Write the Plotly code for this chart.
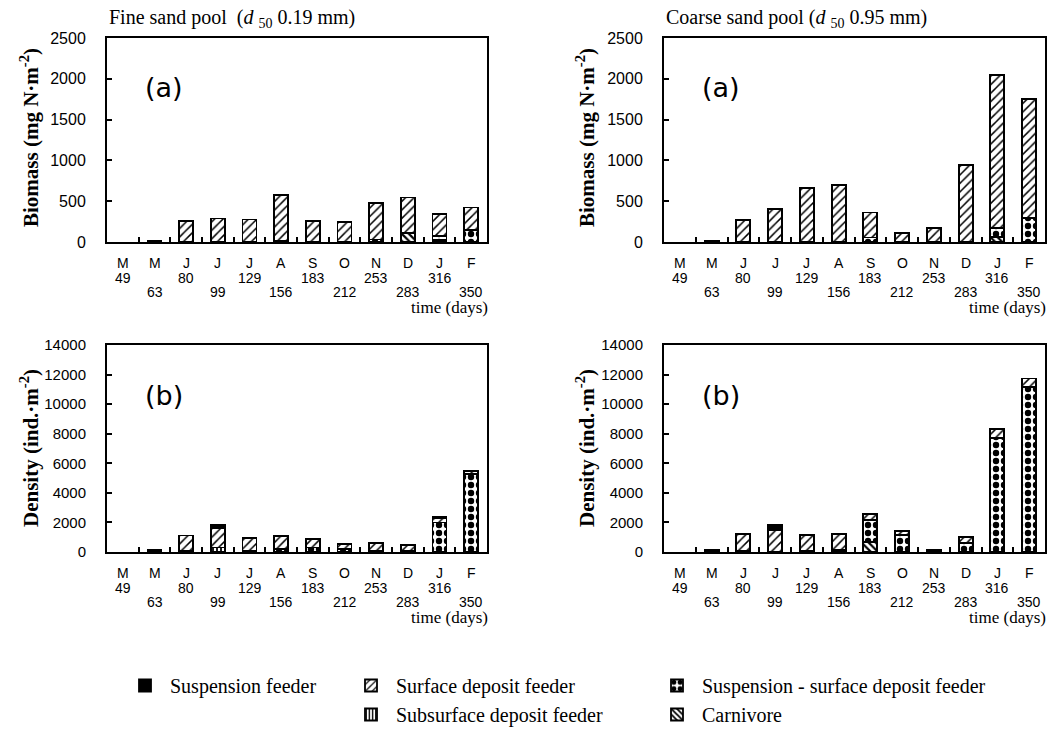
import plotly.graph_objects as go

# Sampling dates: month initial and day number since start
months = ["M", "M", "J", "J", "J", "A", "S", "O", "N", "D", "J", "F"]
days = [49, 63, 80, 99, 129, 156, 183, 212, 253, 283, 316, 350]

# Biomass (mg N m-2), fine sand pool
fine_bio_susp = [0, 10, 0, 0, 0, 0, 0, 0, 0, 0, 0, 0]
fine_bio_surf = [0, 0, 261, 289, 277, 560, 253, 245, 447, 436, 267, 279]
fine_bio_subs = [0, 0, 0, 0, 0, 0, 0, 0, 0, 0, 20, 0]
fine_bio_mix = [0, 0, 0, 0, 0, 15, 0, 0, 30, 0, 55, 145]
fine_bio_carn = [0, 0, 0, 0, 0, 0, 0, 0, 0, 110, 0, 0]

# Biomass (mg N m-2), coarse sand pool
coarse_bio_susp = [0, 10, 0, 0, 0, 0, 0, 0, 0, 0, 0, 0]
coarse_bio_surf = [0, 0, 272, 402, 663, 703, 307, 110, 167, 943, 1874, 1466]
coarse_bio_subs = [0, 0, 0, 0, 0, 0, 0, 0, 0, 0, 0, 0]
coarse_bio_mix = [0, 0, 0, 0, 0, 0, 55, 0, 0, 0, 105, 290]
coarse_bio_carn = [0, 0, 0, 0, 0, 0, 0, 0, 0, 0, 65, 0]

# Density (ind. m-2), fine sand pool
fine_den_susp = [0, 120, 0, 250, 0, 0, 0, 0, 0, 0, 100, 0]
fine_den_surf = [0, 0, 1050, 1300, 850, 900, 600, 340, 560, 450, 270, 220]
fine_den_subs = [0, 0, 0, 300, 0, 0, 0, 0, 0, 0, 0, 0]
fine_den_mix = [0, 0, 60, 0, 100, 200, 300, 200, 50, 50, 2000, 5250]
fine_den_carn = [0, 0, 0, 0, 0, 0, 0, 0, 0, 0, 0, 0]

# Density (ind. m-2), coarse sand pool
coarse_den_susp = [0, 150, 0, 340, 0, 0, 0, 0, 150, 0, 0, 0]
coarse_den_surf = [0, 0, 1160, 1470, 1050, 1080, 430, 230, 0, 400, 610, 590]
coarse_den_subs = [0, 0, 0, 0, 0, 0, 0, 0, 0, 0, 0, 0]
coarse_den_mix = [0, 0, 80, 0, 80, 160, 1470, 1170, 0, 600, 7690, 11140]
coarse_den_carn = [0, 0, 0, 0, 0, 0, 680, 0, 0, 0, 0, 0]

group_names = {
    "susp": "Suspension feeder",
    "surf": "Surface deposit feeder",
    "mix": "Suspension - surface deposit feeder",
    "subs": "Subsurface deposit feeder",
    "carn": "Carnivore",
}

W, H = 1051, 730
SERIF = "Liberation Serif, Times New Roman, serif"
SANS = "Liberation Sans, Arial, sans-serif"


def px_x(p):
    return p / W


def px_y(p):
    return 1 - p / H


# panel boxes in pixels: (left, right, top, bottom)
panels = {
    1: (107, 487, 38, 242),
    2: (664, 1045, 38, 242),
    3: (107, 487, 345, 552),
    4: (664, 1045, 345, 552),
}

# fill pattern per feeding group
styles = {
    "carn": dict(shape="\\", size=5, solidity=0.45),
    "subs": dict(shape="|", size=4, solidity=0.45),
    "mix": dict(shape=".", size=8, solidity=0.5),
    "surf": dict(shape="/", size=6, solidity=0.25),
    "susp": None,
}
legend_of = {"susp": "legend", "surf": "legend2", "subs": "legend2",
             "mix": "legend3", "carn": "legend3"}
rank_of = {"susp": 1, "surf": 1, "subs": 2, "mix": 1, "carn": 2}

datasets = {
    1: dict(susp=fine_bio_susp, surf=fine_bio_surf, subs=fine_bio_subs,
            mix=fine_bio_mix, carn=fine_bio_carn),
    2: dict(susp=coarse_bio_susp, surf=coarse_bio_surf, subs=coarse_bio_subs,
            mix=coarse_bio_mix, carn=coarse_bio_carn),
    3: dict(susp=fine_den_susp, surf=fine_den_surf, subs=fine_den_subs,
            mix=fine_den_mix, carn=fine_den_carn),
    4: dict(susp=coarse_den_susp, surf=coarse_den_surf, subs=coarse_den_subs,
            mix=coarse_den_mix, carn=coarse_den_carn),
}

fig = go.Figure()
xs = list(range(len(months)))
stack_order = ["carn", "subs", "mix", "surf", "susp"]

for k, data in datasets.items():
    xa = "x" if k == 1 else f"x{k}"
    ya = "y" if k == 1 else f"y{k}"
    for key in stack_order:
        vals = [v if v else None for v in data[key]]
        st = styles[key]
        if st is None:
            marker = dict(color="black", line=dict(color="black", width=1.8))
        else:
            marker = dict(color="white", line=dict(color="black", width=1.8),
                          pattern=dict(shape=st["shape"], size=st["size"],
                                       solidity=st["solidity"], fgcolor="black",
                                       bgcolor="white", fillmode="replace"))
        fig.add_trace(go.Bar(
            x=xs, y=vals, width=0.44, xaxis=xa, yaxis=ya,
            name=group_names[key], marker=marker,
            legend=legend_of[key], legendrank=rank_of[key],
            showlegend=(k == 1),
        ))

layout = dict(
    width=W, height=H, barmode="stack",
    margin=dict(l=0, r=0, t=0, b=0, autoexpand=False),
    paper_bgcolor="white", plot_bgcolor="white",
    showlegend=True,
)

axis_common = dict(showgrid=False, zeroline=False, linecolor="black",
                   linewidth=2, mirror=True, ticks="inside", tickcolor="black",
                   tickwidth=1.5, ticklen=5)
for k, (l, r, t, b) in panels.items():
    sx = "" if k == 1 else str(k)
    layout[f"xaxis{sx}"] = dict(
        axis_common, domain=[px_x(l), px_x(r)], range=[-0.5, 11.5],
        tickvals=[i + 0.5 for i in range(11)], showticklabels=False,
        anchor=f"y{sx}", fixedrange=True)
    yr = [0, 2500] if k in (1, 2) else [0, 14000]
    dt = 500 if k in (1, 2) else 2000
    layout[f"yaxis{sx}"] = dict(
        axis_common, domain=[px_y(b), px_y(t)], range=yr, dtick=dt,
        anchor=f"x{sx}", ticklabelstandoff=16, tickformat="d",
        tickfont=dict(family=SANS, size=16 if k in (1, 2) else 15, color="black"))

fig.update_layout(**layout)


def text_at(x, y, text, font, xref="paper", xanchor="center", **kw):
    return dict(x=x, y=y, xref=xref, yref="paper", text=text, showarrow=False,
                xanchor=xanchor, yanchor="middle", font=font, **kw)


tick_font = dict(family=SANS, size=14, color="black")
ann = []
# month / day labels under each panel, staggered rows for the day numbers
for k, (l, r, t, b) in panels.items():
    sx = "x" if k == 1 else f"x{k}"
    for i, (m, d) in enumerate(zip(months, days)):
        ann.append(text_at(i, px_y(b + 21), m, tick_font, xref=sx))
        off = 36 if i % 2 == 0 else 50
        ann.append(text_at(i, px_y(b + off), str(d), tick_font, xref=sx))
    ann.append(text_at(px_x(r + 3), px_y(b + 65), "time (days)",
                       dict(family=SERIF, size=17, color="black"), xanchor="right"))
    tag = "(a)" if k in (1, 2) else "(b)"
    ann.append(text_at(px_x(l + 36), px_y(t + 50), tag,
                       dict(family="DejaVu Sans", size=27, color="black"), xanchor="left"))

# vertical axis titles
title_font = dict(family=SERIF, size=21, color="black")
for xc in (29, 585):
    ann.append(text_at(px_x(xc), px_y(138), "<b>Biomass (mg N·m<sup>-2</sup>)</b>",
                       title_font, textangle=-90))
    ann.append(text_at(px_x(xc), px_y(448), "<b>Density (ind.·m<sup>-2</sup>)</b>",
                       title_font, textangle=-90))

# pool titles
pool_font = dict(family=SERIF, size=20, color="black")
ann.append(text_at(px_x(107), px_y(19),
                   "Fine sand pool &nbsp;(<i>d</i> <sub>50</sub> 0.19 mm)",
                   pool_font, xanchor="left"))
ann.append(text_at(px_x(664), px_y(19),
                   "Coarse sand pool (<i>d</i> <sub>50</sub> 0.95 mm)",
                   pool_font, xanchor="left"))

fig.update_layout(annotations=ann)

legend_common = dict(orientation="v", yanchor="top", xanchor="left",
                     traceorder="normal", bgcolor="rgba(0,0,0,0)", itemwidth=40,
                     font=dict(family=SERIF, size=20, color="black"),
                     itemclick=False, itemdoubleclick=False)
fig.update_layout(
    legend=dict(legend_common, x=px_x(120), y=px_y(666)),
    legend2=dict(legend_common, x=px_x(346), y=px_y(666)),
    legend3=dict(legend_common, x=px_x(652), y=px_y(666)),
)

fig.write_html("out.html")
